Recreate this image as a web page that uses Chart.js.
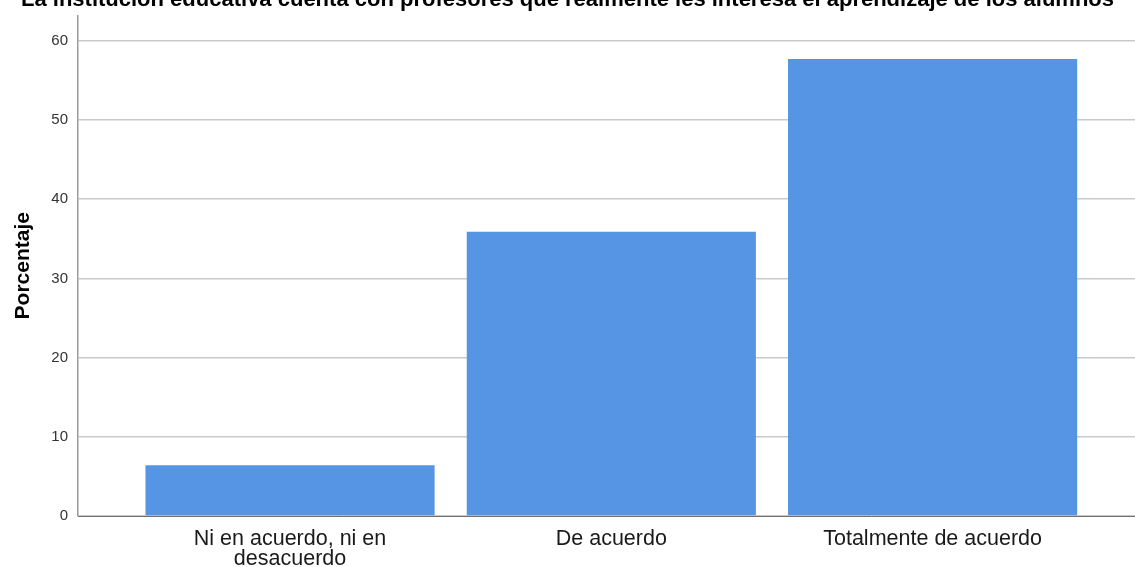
<!DOCTYPE html>
<html>
<head>
<meta charset="utf-8">
<script src="https://cdn.jsdelivr.net/npm/chart.js@4/dist/chart.umd.min.js"></script>
<style>
  html, body { margin: 0; padding: 0; background: #ffffff; }
  #frame { position: relative; width: 1135px; height: 567px; overflow: hidden; background: #fff; }
  #wrap { position: absolute; left: 0; top: -16px; width: 1135px; height: 583px; }
</style>
</head>
<body>
<div id="frame"><div id="wrap"><canvas id="c"></canvas></div></div>
<script>
const chartTitle = 'La institución educativa cuenta con profesores que realmente les interesa el aprendizaje de los alumnos';
const categories = [['Ni en acuerdo, ni en', 'desacuerdo'], 'De acuerdo', 'Totalmente de acuerdo'];
const percentages = [6.4, 35.9, 57.7];
const yTicks = [0, 10, 20, 30, 40, 50, 60];
const yAxisTitle = 'Porcentaje';

const points = percentages.map((v, i) => ({ x: i, y: v }));

new Chart(document.getElementById('c'), {
  type: 'bar',
  data: {
    datasets: [{
      data: points,
      backgroundColor: '#5595e4',
      borderWidth: 0,
      categoryPercentage: 0.9,
      barPercentage: 1.0
    }]
  },
  options: {
    responsive: true,
    maintainAspectRatio: false,
    animation: false,
    layout: { padding: { left: 0, right: 0, top: 0, bottom: 0 } },
    plugins: {
      legend: { display: false },
      tooltip: { enabled: false },
      title: {
        display: true,
        text: chartTitle,
        color: '#000',
        font: { family: 'Liberation Sans', size: 22, weight: 'bold' },
        padding: { top: 3, bottom: 2 }
      }
    },
    scales: {
      x: {
        type: 'linear',
        offset: false,
        min: -0.66,
        max: 2.63,
        afterBuildTicks: s => { s.ticks = categories.map((_, i) => ({ value: i })); },
        afterFit: s => { s.height = 51; },
        grid: { display: false, drawTicks: false, offset: false },
        border: { display: true, color: '#707070', width: 1 },
        ticks: {
          autoSkip: false,
          maxRotation: 0,
          padding: 13,
          color: '#1a1a1a',
          font: { family: 'Liberation Sans', size: 21.5, lineHeight: 0.93 },
          callback: v => categories[v]
        }
      },
      y: {
        min: 0,
        max: 63.2,
        afterBuildTicks: s => { s.ticks = yTicks.map(v => ({ value: v })); },
        afterFit: s => { s.width = 78; },
        grid: { color: '#c9c9c9', lineWidth: 1.5, drawTicks: false },
        border: { display: true, color: '#9a9a9a', width: 1.5 },
        ticks: {
          padding: 10,
          color: '#333',
          font: { family: 'Liberation Sans', size: 15 }
        },
        title: {
          display: true,
          text: yAxisTitle,
          color: '#000',
          font: { family: 'Liberation Sans', size: 21, weight: 'bold' },
          padding: { top: 11, bottom: 0 }
        }
      }
    }
  }
});
</script>
</body>
</html>
